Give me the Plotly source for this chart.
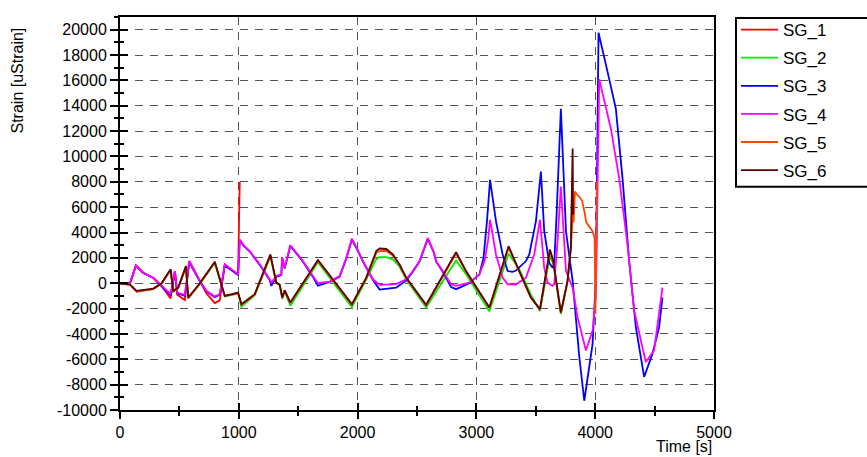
import plotly.graph_objects as go

# ---------------- data ----------------
names = ["SG_1", "SG_2", "SG_3", "SG_4", "SG_5", "SG_6"]
colors = ["#FF0000", "#00EE00", "#0000FF", "#FF00FF", "#FF4500", "#600000"]

t_sg1 = [0, 84, 134, 196, 280, 350, 426, 462, 482, 546, 583, 672, 728, 798, 840, 882, 938, 994, 1008]
v_sg1 = [0, 0, 1430, 830, 440, -210, -1200, 960, -900, -1330, 1750, 180, -800, -1560, -1350, 1490, 1100, 700, 8000]

t_sg4 = [0, 84, 134, 196, 280, 350, 426, 462, 482, 546, 583, 672, 728, 798, 840, 882, 938, 994, 1008,
         1036, 1092, 1176, 1260, 1274, 1316, 1358, 1365, 1386, 1434, 1484, 1540, 1624, 1666, 1765, 1849,
         1905, 1952, 2000, 2045, 2129, 2185, 2325, 2409, 2465, 2521, 2591, 2640, 2661, 2717, 2787, 2829,
         2941, 3025, 3070, 3100, 3115, 3165, 3221, 3263, 3333, 3417, 3487, 3535, 3571, 3599, 3641, 3655,
         3683, 3711, 3754, 3810, 3852, 3922, 3978, 4006, 4034, 4132, 4202, 4272, 4328, 4426, 4496, 4566]
v_sg4 = [0, 0, 1400, 830, 440, -210, -860, 960, -735, -920, 1750, 180, -600, -1050, -860, 1490, 1100, 700, 3450,
         3050, 2530, 1490, 310, 50, 570, 700, 2060, 1220, 3000, 2400, 1750, 570, 0, 130, 570,
         2000, 3520, 2650, 1750, 310, -130, -70, 310, 960, 1750, 3570, 2500, 1750, 960, -80, -210,
         50, 700, 1800, 3500, 5010, 2270, 440, -80, -100, 440, 2270, 5010, 1220, 50, -210, -80,
         3300, 7620, 960, -340, -2700, -5300, -3740, -860, 16100, 12190, 8270, 3050, -2170, -6220, -5300, -340]

t_sg3 = [0, 84, 134, 196, 280, 350, 426, 462, 482, 546, 583, 672, 728, 798, 840, 882, 938, 994, 1008,
         1036, 1092, 1176, 1260, 1274, 1316, 1358, 1365, 1386, 1434, 1484, 1540, 1624, 1666, 1765, 1849,
         1905, 1952, 2000, 2045, 2129, 2185, 2325, 2409, 2465, 2521, 2591, 2640, 2661, 2717, 2787, 2829,
         2941, 3025, 3060, 3090, 3115, 3165, 3221, 3263, 3305, 3333, 3417, 3445, 3501, 3543, 3571, 3599,
         3613, 3641, 3655, 3675, 3711, 3725, 3754, 3810, 3866, 3908, 3978, 4006, 4028, 4118, 4174, 4230,
         4286, 4342, 4412, 4482, 4538, 4566]
v_sg3 = [0, 0, 1350, 800, 420, -250, -950, 900, -800, -1000, 1650, 150, -650, -1100, -900, 1400, 1050, 650, 3400,
         3000, 2500, 1450, 250, -210, 500, 650, 2060, 1150, 2950, 2350, 1700, 500, -200, 100, 520,
         1950, 3450, 2600, 1700, 250, -500, -340, 200, 900, 1700, 3500, 2450, 1700, 900, -300, -470,
         0, 700, 2000, 5000, 8150, 4880, 2270, 960, 900, 1000, 1750, 2270, 4880, 8800, 4100, 2270,
         1610, 1220, 1500, 5400, 13750, 10620, 4100, 180, -5800, -9270, -4780, 440, 19760, 16100, 13750, 8270,
         1750, -3470, -7390, -5560, -3470, -1130]

t_sg6 = [0, 84, 140, 280, 350, 426, 448, 490, 555, 574, 672, 798, 882, 952, 994, 1022, 1134, 1266, 1316,
         1344, 1366, 1386, 1434, 1666, 1952, 2073, 2157, 2185, 2241, 2297, 2353, 2409, 2577, 2829, 2913,
         3109, 3271, 3361, 3459, 3535, 3619, 3647, 3711, 3767, 3795, 3810, 3814]
v_sg6 = [0, -100, -600, -420, 0, 1100, -600, -340, 1350, -1130, 0, 1700, -1000, -860, -735, -1650, -860, 2270, 50,
         -100, -1130, -550, -1520, 1830, -1650, 440, 2530, 2740, 2700, 2270, 1490, 440, -1700, 2450, 960,
         -1910, 2920, 960, -1130, -2040, 2660, 1750, -2300, 180, 2790, 10620, 5400]

t_sg2 = [0, 84, 140, 280, 350, 426, 448, 490, 555, 574, 672, 798, 882, 952, 994, 1022, 1134, 1266, 1316,
         1344, 1366, 1386, 1434, 1666, 1952, 2073, 2157, 2185, 2241, 2297, 2353, 2409, 2577, 2829, 2913,
         3109, 3271, 3361, 3459, 3535, 3619, 3647, 3711, 3767, 3795, 3808]
v_sg2 = [0, -100, -650, -450, 0, 1050, -650, -380, 1300, -1200, -50, 1600, -1050, -920, -800, -1860, -950, 2100, 0,
         -150, -1250, -650, -1780, 1650, -1900, 300, 1900, 2060, 2060, 1880, 1300, 300, -1910, 1800, 700,
         -2220, 2320, 1100, -900, -2200, 2140, 1500, -2430, 100, 2790, 8000]

t_sg5 = [0, 84, 140, 280, 350, 426, 448, 490, 555, 574, 672, 798, 882, 952, 994, 1022, 1134, 1266, 1316,
         1344, 1366, 1386, 1434, 1666, 1952, 2073, 2157, 2185, 2241, 2297, 2353, 2409, 2577, 2829, 2913,
         3109, 3271, 3361, 3459, 3535, 3619, 3647, 3711, 3767, 3795, 3812, 3818, 3830, 3845, 3866, 3890,
         3908, 3925, 3978, 3995, 4002, 4015]
v_sg5 = [0, -120, -680, -470, -30, 1050, -640, -380, 1300, -1200, -30, 1650, -1000, -900, -760, -1700, -900, 2200, 30,
         -120, -1160, -580, -1560, 1780, -1700, 400, 2400, 2530, 2560, 2180, 1420, 400, -1750, 2350, 900,
         -1950, 2800, 950, -1150, -2080, 2550, 1700, -2350, 150, 2790, 5400, 4800, 7230, 7000, 6840, 6500,
         5700, 4800, 4100, 3570, -2430, 8010]

series_t = [t_sg1, t_sg2, t_sg3, t_sg4, t_sg5, t_sg6]
series_v = [v_sg1, v_sg2, v_sg3, v_sg4, v_sg5, v_sg6]

x_tick_vals = [0, 1000, 2000, 3000, 4000, 5000]
x_tick_text = [str(v) for v in x_tick_vals]
y_tick_vals = list(range(-10000, 20001, 2000))
y_tick_text = [str(v) for v in y_tick_vals]

# ---------------- figure ----------------
FONT = "Arial, Liberation Sans, sans-serif"
W, H = 867, 457
ML, MR, MT, MB = 120, 153, 14, 47
PW, PH = W - ML - MR, H - MT - MB


def px_x(p):
    return (p - ML) / PW


def px_y(p):
    return (H - MB - p) / PH


fig = go.Figure()
for name, col, tt, vv in zip(names, colors, series_t, series_v):
    fig.add_trace(go.Scatter(x=tt, y=vv, mode="lines", name=name, legendgroup=name,
                             line=dict(color=col, width=1.8)))

# dummy trace so the overlay axes (inner half of crossing ticks) are drawn
fig.add_trace(go.Scatter(x=[None], y=[None], xaxis="x2", yaxis="y2", showlegend=False,
                         hoverinfo="skip"))

grid = dict(showgrid=True, gridcolor="#555555", gridwidth=1, griddash="8px,7px")

fig.update_layout(
    width=W, height=H,
    margin=dict(l=ML, r=MR, t=MT, b=MB),
    plot_bgcolor="white", paper_bgcolor="white",
    font=dict(family=FONT, size=16, color="black"),
    xaxis=dict(range=[0, 5000], tickmode="array", tickvals=x_tick_vals, ticktext=x_tick_text,
               ticks="outside", ticklen=7, tickwidth=2, tickcolor="black",
               minor=dict(dtick=500, tick0=0, ticks="outside", ticklen=4, tickwidth=1.5,
                          tickcolor="black", showgrid=False),
               showline=True, linecolor="black", linewidth=2, mirror=True,
               zeroline=False, tickfont=dict(size=16), **grid),
    yaxis=dict(range=[-10000, 21000], tickmode="array", tickvals=y_tick_vals, ticktext=y_tick_text,
               ticks="outside", ticklen=8, tickwidth=2, tickcolor="black",
               minor=dict(dtick=1000, tick0=0, ticks="outside", ticklen=4, tickwidth=1.5,
                          tickcolor="black", showgrid=False),
               showline=True, linecolor="black", linewidth=2, mirror=True,
               zeroline=False, tickfont=dict(size=16), **grid),
    xaxis2=dict(range=[0, 5000], overlaying="x", anchor="y2", side="bottom",
                tickmode="array", tickvals=x_tick_vals, ticks="inside", ticklen=7, tickwidth=2,
                tickcolor="black", showticklabels=False, showgrid=False, zeroline=False,
                showline=False,
                minor=dict(dtick=500, tick0=0, ticks="inside", ticklen=4, tickwidth=1.5,
                           tickcolor="black", showgrid=False)),
    yaxis2=dict(range=[-10000, 21000], overlaying="y", anchor="x2", side="left",
                tickmode="array", tickvals=y_tick_vals, ticks="inside", ticklen=8, tickwidth=2,
                tickcolor="black", showticklabels=False, showgrid=False, zeroline=False,
                showline=False,
                minor=dict(dtick=1000, tick0=0, ticks="inside", ticklen=4, tickwidth=1.5,
                           tickcolor="black", showgrid=False)),
    showlegend=True,
    legend=dict(x=px_x(736), xanchor="left", y=px_y(9), yanchor="top",
                borderwidth=0, bgcolor="rgba(0,0,0,0)", itemwidth=37,
                font=dict(family=FONT, size=17, color="black"),
                tracegroupgap=3),
    shapes=[
        dict(type="rect", xref="paper", yref="paper",
             x0=px_x(736), x1=px_x(880), y0=px_y(185), y1=px_y(15),
             line=dict(color="black", width=2), fillcolor="rgba(0,0,0,0)", layer="above"),
    ],
    annotations=[
        dict(text="Strain [uStrain]", xref="paper", yref="paper",
             x=px_x(18), y=px_y(78), xanchor="center", yanchor="middle", textangle=-90,
             showarrow=False, font=dict(family=FONT, size=16, color="black")),
        dict(text="Time [s]", xref="paper", yref="paper",
             x=px_x(714), y=px_y(447), xanchor="right", yanchor="middle",
             showarrow=False, font=dict(family=FONT, size=16, color="black")),
    ],
)

fig.write_html("out.html", config={"displayModeBar": False},
               post_script="document.body.style.margin='0';")
